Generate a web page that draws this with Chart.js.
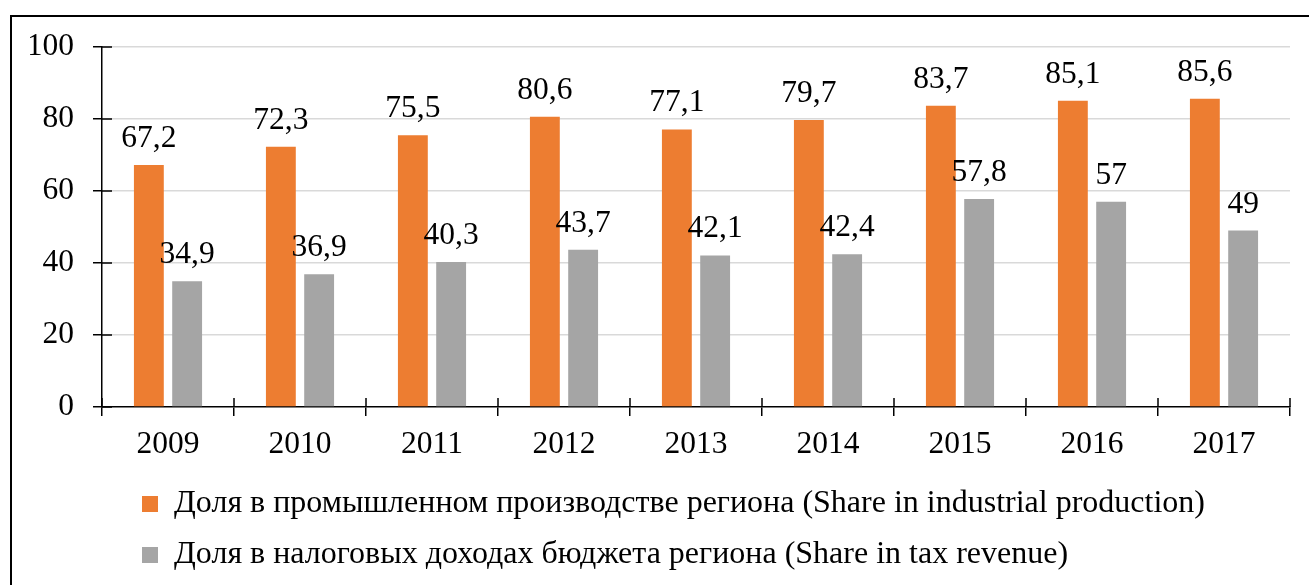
<!DOCTYPE html>
<html>
<head>
<meta charset="utf-8">
<script src="https://cdn.jsdelivr.net/npm/chart.js@4"></script>
<style>
  html, body { margin: 0; padding: 0; background: #fff; overflow: hidden; }
  #wrap { position: relative; width: 1309px; height: 585px; }
  #grafico { display: block; }
  #frame { position: absolute; left: 10px; top: 15px; width: 1400px; height: 700px;
           border: 2px solid #000; pointer-events: none; }
</style>
</head>
<body>
<div id="wrap">
  <canvas id="grafico" width="1309" height="585"></canvas>
  <div id="frame"></div>
</div>
<script>
var anos = ['2009', '2010', '2011', '2012', '2013', '2014', '2015', '2016', '2017'];
var producao = [67.2, 72.3, 75.5, 80.6, 77.1, 79.7, 83.7, 85.1, 85.6];
var impostos = [34.9, 36.9, 40.3, 43.7, 42.1, 42.4, 57.8, 57, 49];
var nomeProducao = 'Доля в промышленном производстве региона (Share in industrial production)';
var nomeImpostos = 'Доля в налоговых доходах бюджета региона (Share in tax revenue)';
var ticksY = [0, 20, 40, 60, 80, 100];

var fonte = "'Liberation Serif', 'Times New Roman', serif";

// rótulos de valor acima das barras
var rotulos = {
  id: 'rotulos',
  afterDatasetsDraw: function(chart) {
    var ctx = chart.ctx;
    ctx.save();
    ctx.font = '31.5px ' + fonte;
    ctx.fillStyle = '#000';
    ctx.textAlign = 'center';
    ctx.textBaseline = 'alphabetic';
    chart.data.datasets.forEach(function(ds, i) {
      chart.getDatasetMeta(i).data.forEach(function(bar, j) {
        ctx.fillText(String(ds.data[j]).replace('.', ','), bar.x, bar.y - 18);
      });
    });
    ctx.restore();
  }
};

// marcas que cruzam os eixos (parte interna)
var marcas = {
  id: 'marcas',
  afterDraw: function(chart) {
    var ctx = chart.ctx, area = chart.chartArea;
    var x = chart.scales.x, y = chart.scales.y;
    ctx.save();
    ctx.strokeStyle = '#000';
    ctx.lineWidth = 1.5;
    ctx.beginPath();
    ticksY.forEach(function(v) {
      var py = y.getPixelForValue(v);
      ctx.moveTo(area.left, py);
      ctx.lineTo(area.left + 10, py);
    });
    for (var i = 0; i <= anos.length; i++) {
      var px = x.left + i * (x.width / anos.length);
      ctx.moveTo(px, area.bottom);
      ctx.lineTo(px, area.bottom - 9);
    }
    ctx.stroke();
    ctx.restore();
  }
};

// legenda alinhada à esquerda, recuada
var legendaRecuo = {
  id: 'legendaRecuo',
  beforeDraw: function(chart) {
    var lg = chart.legend;
    var w = lg.right - lg.left;
    lg.left = 123;
    lg.right = 123 + w;
  }
};

var ctx = document.getElementById('grafico').getContext('2d');
var chart = new Chart(ctx, {
  type: 'bar',
  data: {
    labels: anos,
    datasets: [{
      label: nomeProducao,
      backgroundColor: '#ED7D31',
      borderWidth: 0,
      data: producao,
      categoryPercentage: 0.58,
      barPercentage: 0.78
    }, {
      label: nomeImpostos,
      backgroundColor: '#A5A5A5',
      borderWidth: 0,
      data: impostos,
      categoryPercentage: 0.58,
      barPercentage: 0.78
    }]
  },
  options: {
    responsive: false,
    animation: false,
    devicePixelRatio: 1,
    layout: { padding: { left: 30, right: 19, top: 47, bottom: 4 } },
    scales: {
      x: {
        offset: true,
        afterFit: function(scale) { scale.height = 62; },
        grid: { offset: true, drawOnChartArea: false, drawTicks: true, tickLength: 9, tickColor: '#000', lineWidth: 1.5 },
        border: { color: '#000', width: 1.5 },
        ticks: { color: '#000', font: { family: fonte, size: 31.5 }, padding: 9.5 }
      },
      y: {
        min: 0,
        max: 100,
        afterBuildTicks: function(scale) {
          scale.ticks = ticksY.map(function(v) { return { value: v }; });
        },
        afterFit: function(scale) { scale.width = 72; },
        grid: {
          color: function(c) { return c.tick && c.tick.value === 0 ? 'rgba(0,0,0,0)' : '#D9D9D9'; },
          lineWidth: 1.5, tickLength: 9, tickColor: '#000'
        },
        border: { color: '#000', width: 1.5 },
        ticks: { color: '#000', font: { family: fonte, size: 31.5 }, padding: 19 }
      }
    },
    plugins: {
      tooltip: { enabled: false },
      legend: {
        position: 'bottom',
        align: 'start',
        labels: {
          color: '#000',
          font: { family: fonte, size: 32 },
          boxWidth: 16,
          boxHeight: 16,
          padding: 19
        }
      }
    }
  },
  plugins: [rotulos, marcas, legendaRecuo]
});
</script>
</body>
</html>
